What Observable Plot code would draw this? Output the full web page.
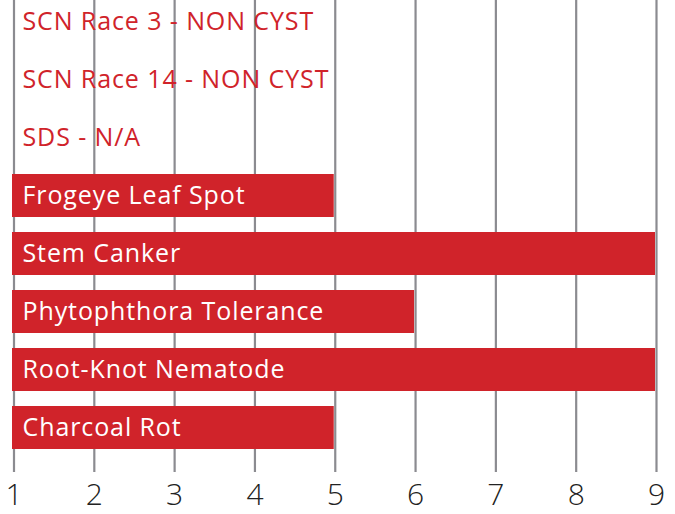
<!DOCTYPE html>
<html>
<head>
<meta charset="utf-8">
<script src="https://cdn.jsdelivr.net/npm/d3@7"></script>
<script src="https://cdn.jsdelivr.net/npm/@observablehq/plot@0.6"></script>
<style>
  html, body { margin: 0; padding: 0; background: #fff; }
  #chart svg { display: block; }
  #chart svg g[aria-label="text"] text { letter-spacing: 0.9px; }
</style>
</head>
<body>
<div id="chart"></div>
<script>
const categories = [
  "SCN Race 3 - NON CYST",
  "SCN Race 14 - NON CYST",
  "SDS - N/A",
  "Frogeye Leaf Spot",
  "Stem Canker",
  "Phytophthora Tolerance",
  "Root-Knot Nematode",
  "Charcoal Rot"
];
const ratings = [null, null, null, 5, 9, 6, 9, 5];
const tickValues = [1, 2, 3, 4, 5, 6, 7, 8, 9];

const data = categories.map((c, i) => ({category: c, value: ratings[i]}));
const bars = data.filter(d => d.value != null);

const RED = "#d0232a";
const GRID = "#8b8b90";
const FONT = "'Open Sans', Lato, sans-serif";

const chart = Plot.plot({
  width: 675,
  height: 514,
  marginLeft: 13,
  marginRight: 19,
  marginTop: 0,
  marginBottom: 42,
  style: {fontFamily: FONT, background: "#fff"},
  x: {domain: [1, 9], range: [13.5, 656], axis: null, label: null},
  y: {domain: categories, range: [-7.5, 456.5], paddingInner: 0.26, paddingOuter: 0.13, axis: null},
  marks: [
    Plot.ruleX(tickValues, {stroke: GRID, strokeWidth: 2.2}),
    Plot.barX(bars, {x1: 1, x2: "value", y: "category", fill: RED, insetLeft: -1.5, insetRight: 1}),
    Plot.text(data, {
      x: 1, y: "category", text: "category",
      dx: 8.5, dy: 0,
      textAnchor: "start",
      fill: d => d.value == null ? RED : "#fff",
      fontSize: 25,
      fontWeight: 400
    }),
    Plot.axisX(tickValues, {
      tickSize: 0, tickPadding: 11, fontSize: 30, fill: "#222",
      fontWeight: 300, label: null,
      tickFormat: d => String(d), fontFamily: FONT
    })
  ]
});
document.getElementById("chart").appendChild(chart);
</script>
</body>
</html>
